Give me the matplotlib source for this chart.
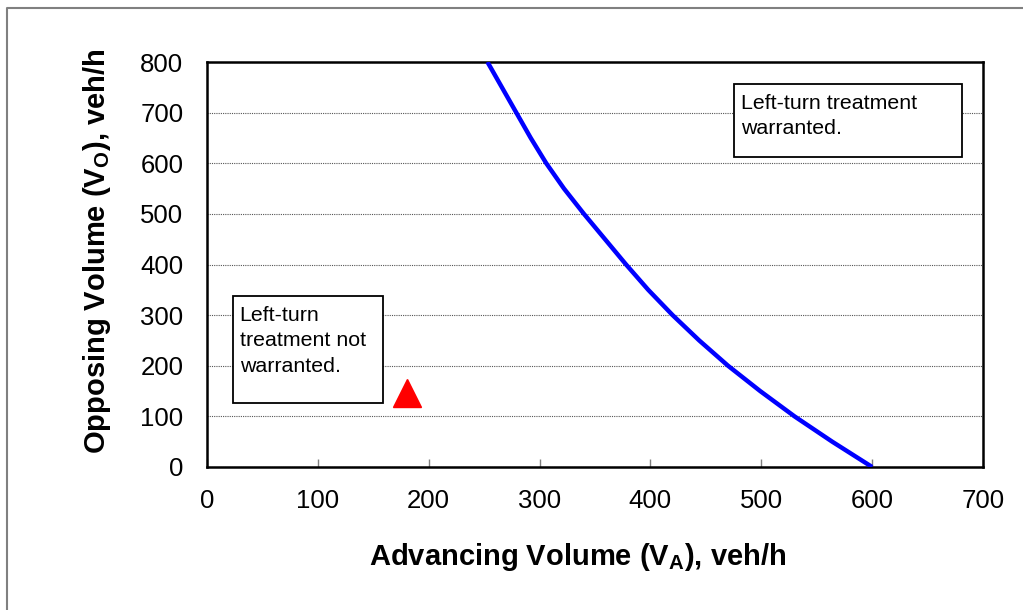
import matplotlib
matplotlib.use("Agg")
import matplotlib.pyplot as plt
from matplotlib.patches import Rectangle
from matplotlib.lines import Line2D

plt.rcParams['font.family'] = ['Liberation Sans', 'DejaVu Sans']

# warrant curve
opposing = [800, 750, 700, 650, 600, 550, 500, 450, 400, 350, 300, 250, 200, 150, 100, 50, 0]
advancing = [253, 266, 279, 292, 306, 322, 340, 359, 378, 398, 420, 444, 470, 499, 530, 564, 600]

# observed point
obs_va = [180]
obs_vo = [146]

x_ticks = [0, 100, 200, 300, 400, 500, 600, 700]
y_ticks = [0, 100, 200, 300, 400, 500, 600, 700, 800]

fig = plt.figure(figsize=(10.23, 6.10), dpi=100)
ax = fig.add_axes([207 / 1023, 1 - 467 / 610, 776 / 1023, 405 / 610])

# outer grey frame (only left/top visible)
fig.add_artist(Line2D([6.5 / 1023, 6.5 / 1023, 1.0], [0.0, 1 - 7.5 / 610, 1 - 7.5 / 610],
                      transform=fig.transFigure, color='#808080', lw=1.5))

ax.plot(advancing, opposing, color='#0000ff', lw=3.2, solid_capstyle='butt', zorder=4)
ax.plot(obs_va, obs_vo, linestyle='none', marker='^', color='#ff0000', markersize=20, zorder=5)

ax.set_xlim(0, 700)
ax.set_ylim(0, 800)
ax.set_xticks(x_ticks)
ax.set_yticks(y_ticks)
ax.tick_params(axis='x', direction='in', length=6, width=1, color='#808080', pad=16, labelsize=18.5)
ax.tick_params(axis='y', length=0, pad=17, labelsize=18.5)
ax.yaxis.grid(True, linestyle=(0, (1, 1)), color='#555555', lw=0.8)
ax.set_axisbelow(True)
for s in ax.spines.values():
    s.set_linewidth(1.8)
    s.set_color('black')

ax.set_xlabel('Advancing Volume (V$_\\mathregular{A}$), veh/h', fontsize=21, fontweight='bold')
ax.set_ylabel('Opposing Volume (V$_\\mathregular{O}$), veh/h', fontsize=21, fontweight='bold')
ax.xaxis.set_label_coords((578 - 207) / 776, -(557 - 467) / 405)
ax.yaxis.set_label_coords((97 - 207) / 776, (467 - 251) / 405)
ax.xaxis.label.set_va('center')
ax.yaxis.label.set_va('center')

# annotation boxes
ax.add_patch(Rectangle((23.5, 126.4), 135.3, 211.4, facecolor='white', edgecolor='black', lw=1.3, zorder=3))
ax.text(29.5, 318, 'Left-turn\ntreatment not\nwarranted.', fontsize=15.4, va='top', ha='left', zorder=4,
        linespacing=1.42)
ax.add_patch(Rectangle((475.4, 612.3), 205.6, 144.2, facecolor='white', edgecolor='black', lw=1.3, zorder=3))
ax.text(481.5, 737, 'Left-turn treatment\nwarranted.', fontsize=15.4, va='top', ha='left', zorder=4,
        linespacing=1.42)

fig.savefig('out.png', dpi=100)
